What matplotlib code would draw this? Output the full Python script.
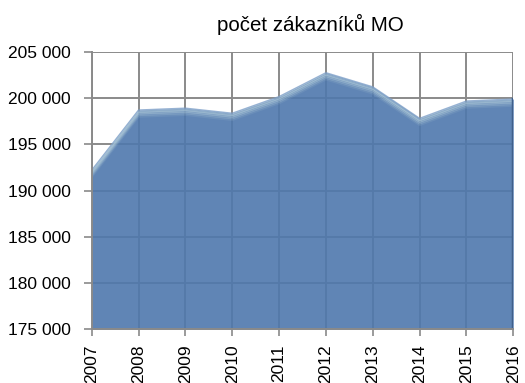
import matplotlib
matplotlib.use('Agg')

import matplotlib.pyplot as plt
import matplotlib.transforms as mtransforms
from matplotlib.ticker import FuncFormatter

# počet zákazníků podle let
years = [2007, 2008, 2009, 2010, 2011, 2012, 2013, 2014, 2015, 2016]
customers = [192200, 198700, 198900, 198350, 200150, 202730, 201200, 197800, 199670, 199890]

plt.rcParams['font.family'] = ['Liberation Sans', 'DejaVu Sans']

fig = plt.figure(figsize=(5.25, 3.83), dpi=100)
ax = fig.add_axes([0.1747, 0.140, 0.8030, 0.725])

ax.set_xlim(years[0], years[-1])
ax.set_ylim(175000, 205000)
ax.set_xticks(years)
ax.set_yticks(range(175000, 205001, 5000))

# mřížka pod plochou, plocha je mírně průhledná
ax.grid(True, color='#8a8a8a', linewidth=1.4, zorder=0)
ax.fill_between(years, 175000, customers, color='#4f78ad', alpha=0.9,
                linewidth=0, zorder=2)

# světlý okraj nahoře (efekt zkosení), postupně slábne směrem dolů
for dy, a in [(-1.2, 0.45), (-2.4, 0.35), (-3.6, 0.22), (-4.8, 0.1)]:
    shift = mtransforms.offset_copy(ax.transData, fig=fig, x=0, y=dy, units='points')
    ax.plot(years, customers, color='#c8e0e4', linewidth=1.6, alpha=a,
            transform=shift, zorder=3, solid_capstyle='butt')
ax.plot(years, customers, color='#7d9fc8', linewidth=1.0, alpha=0.8, zorder=3)
# tmavší pravý okraj
ax.plot([years[-1], years[-1]], [175000, customers[-1]], color='#3f5f8a',
        linewidth=2.5, zorder=3)

for side in ['top', 'right']:
    ax.spines[side].set_visible(False)
for side in ['left', 'bottom']:
    ax.spines[side].set_color('#8a8a8a')
    ax.spines[side].set_linewidth(1.4)
    ax.spines[side].set_zorder(4)

ax.yaxis.set_major_formatter(FuncFormatter(lambda v, p: f'{int(v):,}'.replace(',', ' ')))
ax.tick_params(axis='y', length=6, width=1.2, color='#8a8a8a', labelsize=12.5, pad=9)
ax.tick_params(axis='x', length=5, width=1.2, color='#8a8a8a', labelsize=12.5,
               labelrotation=90, pad=6)

fig.text(0.592, 0.935, 'počet zákazníků MO', ha='center', va='center', fontsize=14.8)

plt.savefig('out.png', dpi=100)
plt.close()
